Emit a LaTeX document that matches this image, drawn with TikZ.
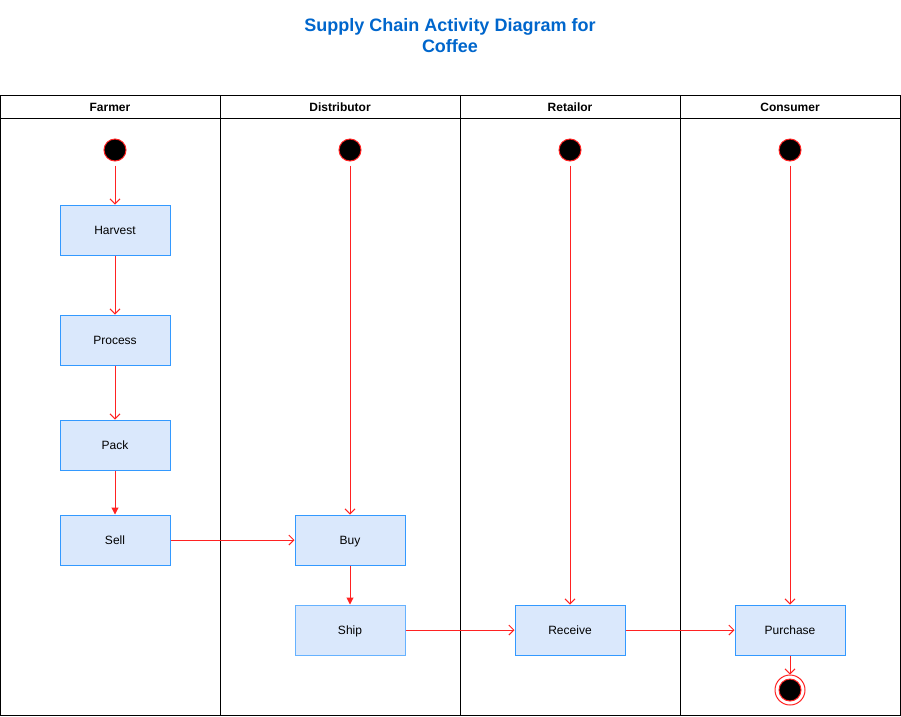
\documentclass[tikz,border=0pt]{standalone}
\usepackage{fontspec}
\setmainfont{Liberation Sans}
\usetikzlibrary{arrows.meta}
\definecolor{T}{RGB}{0, 102, 204}
\definecolor{R}{RGB}{255, 34, 34}
\definecolor{F}{RGB}{218, 232, 252}
\definecolor{E}{RGB}{51, 153, 255}
\definecolor{L}{RGB}{102, 178, 255}
\tikzset{
  act/.style={draw=E, fill=F, line width=1pt, minimum width=110pt, minimum height=50pt, inner sep=0pt, text height=10.5pt, text depth=1pt, font=\fontsize{12}{14}\selectfont},
  start/.style={circle, draw=R, fill=black, line width=1pt, minimum size=22pt, inner sep=0pt},
  flow/.style={R, line width=1pt, -{Straight Barb[length=5pt,width=10pt]}},
  flowf/.style={R, line width=1pt, -{Triangle[length=7pt,width=7pt]}},
  lane/.style={font=\bfseries\fontsize{12}{14}\selectfont}
}
\begin{document}
\begin{tikzpicture}[x=1pt, y=-1pt]
  \useasboundingbox (0,0) rectangle (901,716);
  % title
  \node[text=T, font=\bfseries\fontsize{18}{21}\selectfont, align=center] (title) at (450,36) {Supply Chain Activity Diagram for\\Coffee};
  % pool and lanes
  \draw[black, line width=1pt] (0.5,95.5) rectangle (900.5,715.5);
  \draw[black, line width=1pt] (0.5,118.5) -- (900.5,118.5);
  \draw[black, line width=1pt] (220.5,95.5) -- (220.5,715.5);
  \draw[black, line width=1pt] (460.5,95.5) -- (460.5,715.5);
  \draw[black, line width=1pt] (680.5,95.5) -- (680.5,715.5);
  \node[lane] (farmer) at (110,107) {Farmer};
  \node[lane] (distributor) at (340,107) {Distributor};
  \node[lane] (retailor) at (570,107) {Retailor};
  \node[lane] (consumer) at (790,107) {Consumer};
  % start points
  \node[start] (s1) at (115,150) {};
  \node[start] (s2) at (350,150) {};
  \node[start] (s3) at (570,150) {};
  \node[start] (s4) at (790,150) {};
  % activities
  \node[act] (harvest) at (115,230) {Harvest};
  \node[act] (process) at (115,340) {Process};
  \node[act] (pack) at (115,445) {Pack};
  \node[act] (sell) at (115,540) {Sell};
  \node[act] (buy) at (350,540) {Buy};
  \node[act, draw=L] (ship) at (350,630) {Ship};
  \node[act] (receive) at (570,630) {Receive};
  \node[act] (purchase) at (790,630) {Purchase};
  % end point
  \node[circle, draw=R, fill=white, line width=1pt, minimum size=30pt, inner sep=0pt] (stop) at (790,690) {};
  \node[start] (stopin) at (790,690) {};
  % flows
  \draw[flow, shorten <=4pt] (s1) -- (harvest);
  \draw[flow] (harvest) -- (process);
  \draw[flow] (process) -- (pack);
  \draw[flowf] (pack) -- (sell);
  \draw[flow] (sell) -- (buy);
  \draw[flow, shorten <=4pt] (s2) -- (buy);
  \draw[flowf] (buy) -- (ship);
  \draw[flow] (ship) -- (receive);
  \draw[flow, shorten <=4pt] (s3) -- (receive);
  \draw[flow] (receive) -- (purchase);
  \draw[flow, shorten <=4pt] (s4) -- (purchase);
  \draw[flow] (purchase) -- (stop);
\end{tikzpicture}
\end{document}
